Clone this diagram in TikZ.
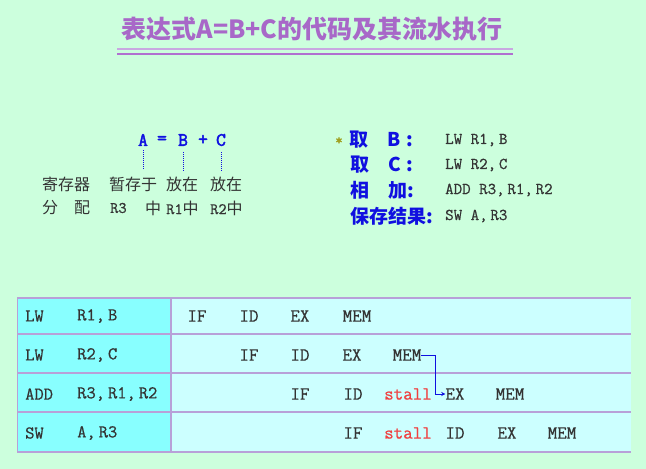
\documentclass[tikz,border=0pt]{standalone}
\usepackage{fontspec}
\newfontfamily\cjk{Noto Sans CJK SC}
\newfontfamily\mono[FakeBold=0.7]{Latin Modern Mono}
\newfontfamily\bmono[FakeBold=2.4]{Latin Modern Mono}
\usetikzlibrary{arrows.meta}
\definecolor{bg}{HTML}{CCFFDD}
\definecolor{ttl}{HTML}{A868C8}
\definecolor{ln1}{HTML}{C8A8E0}
\definecolor{ln2}{HTML}{B070D0}
\definecolor{cyanL}{HTML}{88FFFF}
\definecolor{cyanR}{HTML}{CCFFFF}
\definecolor{grid}{HTML}{B8A0D8}
\definecolor{txt}{HTML}{333333}
\definecolor{blu}{HTML}{1010E0}
\definecolor{stl}{HTML}{F04040}
\definecolor{star}{HTML}{A0A020}
\tikzset{
  tt/.style={inner sep=0pt,text=txt,font=\mono\fontsize{18.5}{18.5}\selectfont},
  code/.style={inner sep=0pt,anchor=west,text=txt,font=\mono\fontsize{18}{18}\selectfont},
  rcode/.style={inner sep=0pt,anchor=west,text=txt,font=\mono\fontsize{16.5}{16.5}\selectfont},
  zh/.style={inner sep=0pt,anchor=west,text=txt,font=\cjk\fontsize{16}{16}\selectfont},
  lbl/.style={inner sep=0pt,anchor=west,text=blu,font=\cjk\bfseries\fontsize{19}{19}\selectfont},
  eq/.style={inner sep=0pt,text=blu,font=\bmono\fontsize{19}{19}\selectfont},
  stall/.style={tt,text=stl},
  gridline/.style={draw=grid,line width=1.4pt}
}
\newcommand{\zm}[1]{{\mono\fontsize{16}{16}\selectfont #1}}
\begin{document}
\begin{tikzpicture}[x=1pt,y=-1pt]
\useasboundingbox (0,0) rectangle (646,469);
\fill[bg] (0,0) rectangle (646,469);
% title
\node[inner sep=0pt,text=ttl,font=\cjk\bfseries\fontsize{25}{25}\selectfont] (title) at (312,29) {表达式A=B+C的代码及其流水执行};
\coordinate (tl1) at (117,49); \coordinate (tr1) at (513,49);
\coordinate (tl2) at (117,54); \coordinate (tr2) at (513,54);
\draw[ln1,line width=1.2pt] (tl1) -- (tr1);
\draw[ln2,line width=2.8pt] (tl2) -- (tr2);
% A = B + C
\node[eq] (eA) at (143,140) {A};
\node[eq] (eEq) at (162,140) {=};
\node[eq] (eB) at (183,140) {B};
\node[eq] (ePl) at (203,140) {+};
\node[eq] (eC) at (221,140) {C};
\coordinate (dA) at (143,170); \coordinate (dB) at (183,172); \coordinate (dC) at (221,172);
\draw[blu,densely dotted,line width=1pt] (eA.south) ++(0,4) -- (dA);
\draw[blu,densely dotted,line width=1pt] (eB.south) ++(0,6) -- (dB);
\draw[blu,densely dotted,line width=1pt] (eC.south) ++(0,6) -- (dC);
\node[zh] (z1) at (42,184) {寄存器};
\node[zh] (z2) at (109,184) {暂存于};
\node[zh] (z3) at (166,184) {放在};
\node[zh] (z4) at (210,184) {放在};
\node[zh] (z5) at (42,208) {分};
\node[zh] (z6) at (74,208) {配};
\node[zh] (z7) at (110,208) {\zm{R3}};
\node[zh] (z8) at (145,208) {中};
\node[zh] (z9) at (166,208) {\zm{R1}中};
\node[zh] (z10) at (210,208) {\zm{R2}中};
% right code block
\node[inner sep=0pt,text=star,font=\bmono\fontsize{14}{14}\selectfont] (st) at (339,141) {*};
\node[lbl] (l1) at (349,140) {取\hspace{19pt}B\hspace{6pt}:};
\node[lbl] (l2) at (350,165) {取\hspace{19pt}C\hspace{6pt}:};
\node[lbl] (l3) at (350,190) {相\hspace{19pt}加:};
\node[lbl] (l4) at (350,216) {保存结果:};
\node[rcode] (c1) at (445,140) {LW R1,\,B};
\node[rcode] (c2) at (445,165) {LW R2,\,C};
\node[rcode] (c3) at (445,190) {ADD R3,\,R1,\,R2};
\node[rcode] (c4) at (445,216) {SW A,\,R3};
% table
\fill[cyanL] (17,298) rectangle (171,452);
\fill[cyanR] (171,298) rectangle (631,452);
\foreach \yy in {298,334,373,412,452} {\draw[gridline] (17,\yy) -- (631,\yy);}
\draw[gridline] (171,298) -- (171,452);
\draw[draw=grid,line width=0.8pt] (17,298) -- (17,452);
% row 1
\node[code] (r1a) at (25,316) {LW};
\node[code] (r1b) at (77,316) {R1,\,B};
\node[tt] (r1s1) at (197,316) {IF};
\node[tt] (r1s2) at (249,316) {ID};
\node[tt] (r1s3) at (300,316) {EX};
\node[tt] (r1s4) at (357,316) {MEM};
% row 2
\node[code] (r2a) at (25,355) {LW};
\node[code] (r2b) at (77,355) {R2,\,C};
\node[tt] (r2s1) at (249,355) {IF};
\node[tt] (r2s2) at (300,355) {ID};
\node[tt] (r2s3) at (352,355) {EX};
\node[tt] (r2s4) at (407,355) {MEM};
% row 3
\node[code] (r3a) at (25,394) {ADD};
\node[code] (r3b) at (77,394) {R3,\,R1,\,R2};
\node[tt] (r3s1) at (300,394) {IF};
\node[tt] (r3s2) at (353,394) {ID};
\node[stall] (r3s3) at (408,394) {stall};
\node[tt] (r3s4) at (455,394) {EX};
\node[tt] (r3s5) at (510,394) {MEM};
% row 4
\node[code] (r4a) at (25,433) {SW};
\node[code] (r4b) at (77,433) {A,\,R3};
\node[tt] (r4s1) at (353,433) {IF};
\node[stall] (r4s2) at (408,433) {stall};
\node[tt] (r4s3) at (455,433) {ID};
\node[tt] (r4s4) at (507,433) {EX};
\node[tt] (r4s5) at (562,433) {MEM};
% forwarding arrow
\coordinate (fw) at (435,355);
\draw[blu,line width=0.8pt,-{Stealth[length=4pt,width=4pt]}] (r2s4.east) -- (fw) |- (r3s4.west);
\end{tikzpicture}
\end{document}
